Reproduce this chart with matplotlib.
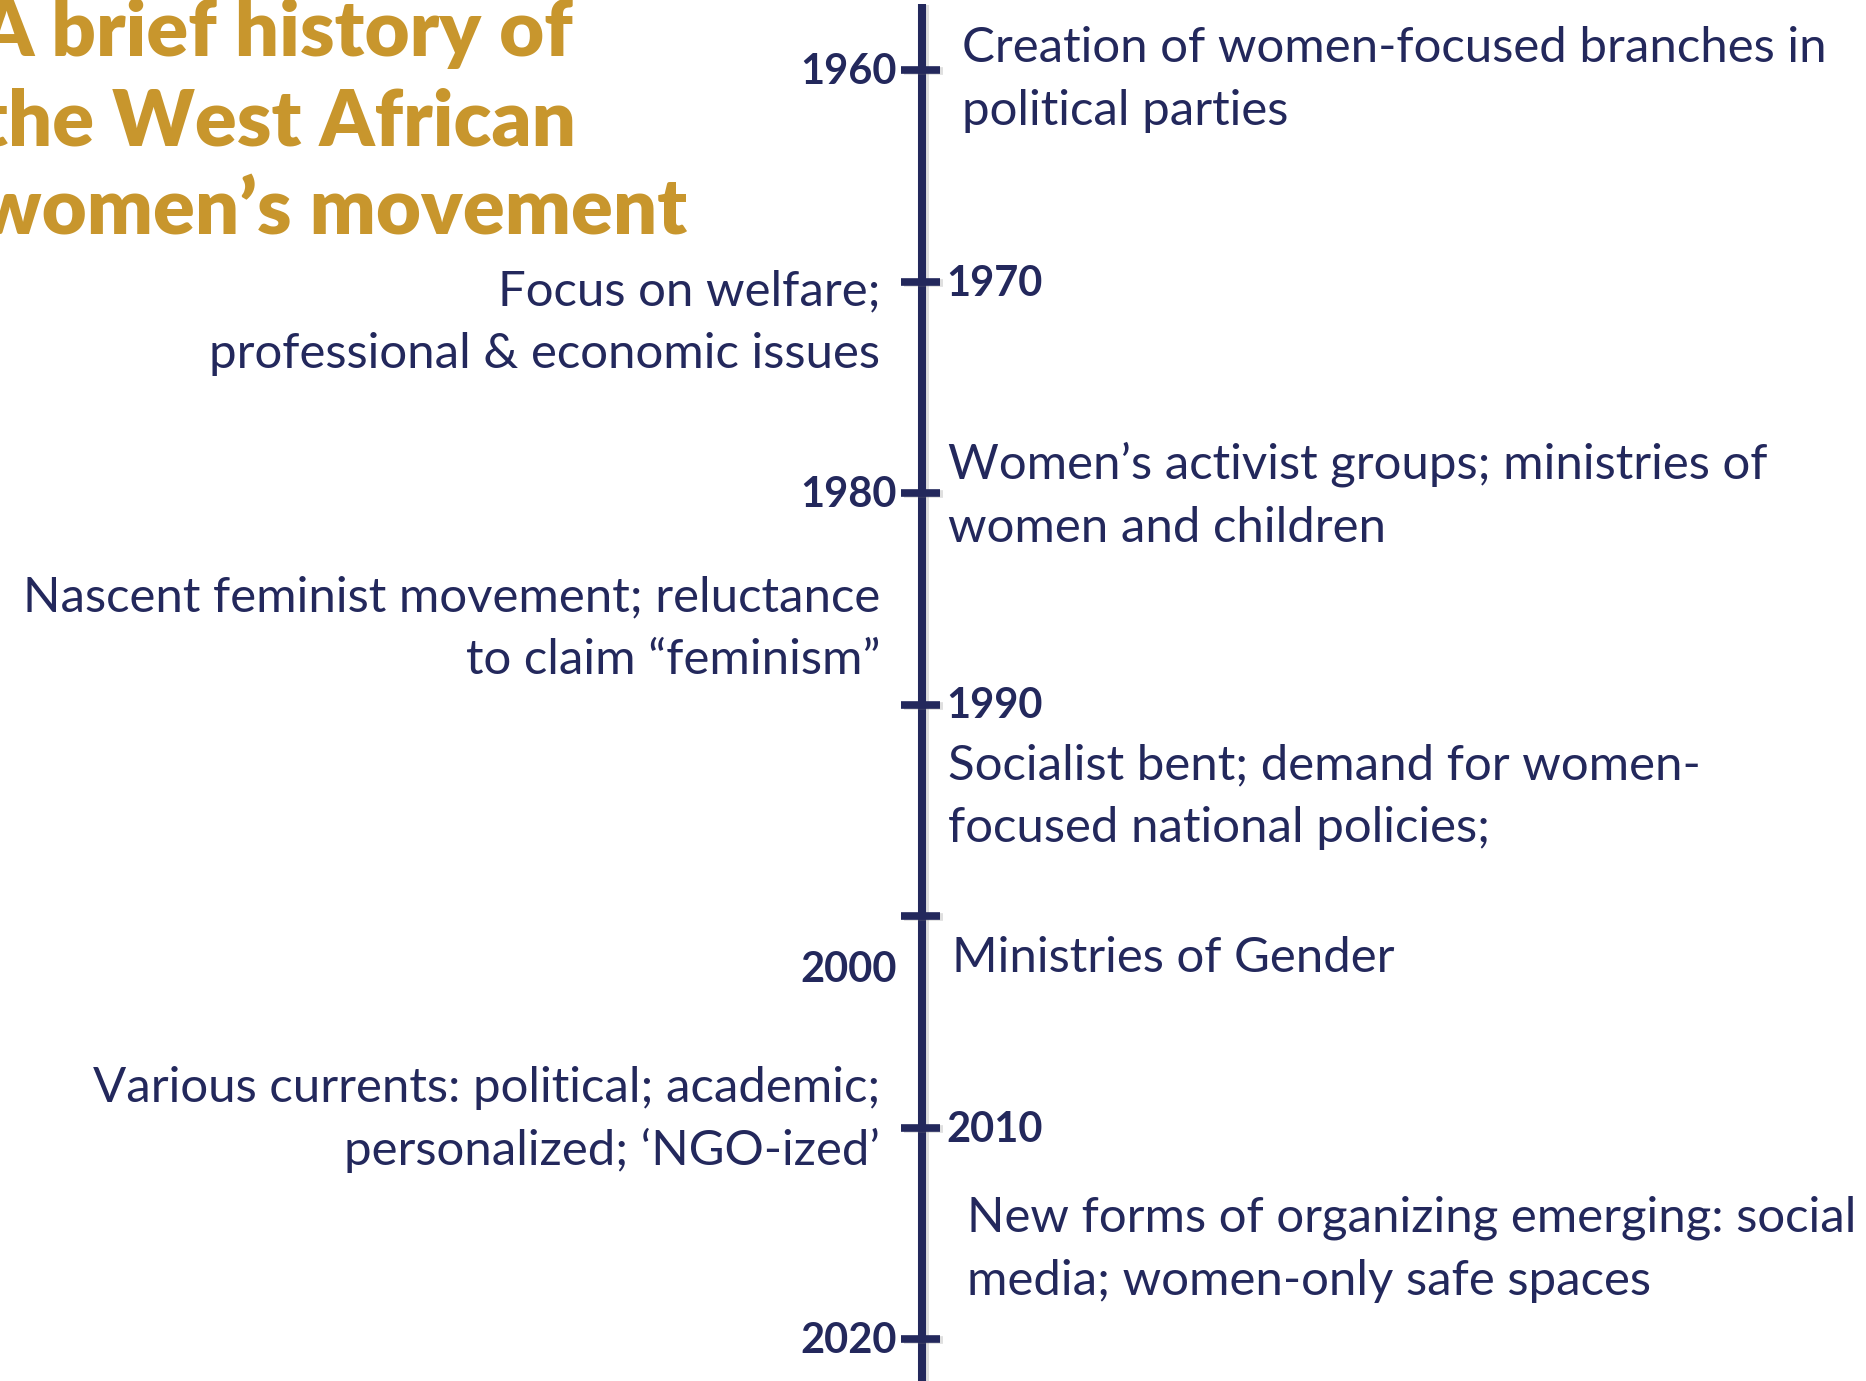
import matplotlib.pyplot as plt
import matplotlib.patheffects as pe

# timeline data
years = [1960, 1970, 1980, 1990, 2000, 2010, 2020]
label_side = ["left", "right", "left", "right", "left", "right", "left"]

events_right = [
    ["Creation of women-focused branches in", "political parties"],
    ["Women\u2019s activist groups; ministries of", "women and children"],
    ["Socialist bent; demand for women-", "focused national policies;"],
    ["Ministries of Gender"],
    ["New forms of organizing emerging: social", "media; women-only safe spaces"],
]
events_left = [
    ["Focus on welfare;", "professional & economic issues"],
    ["Nascent feminist movement; reluctance", "to claim \u201cfeminism\u201d"],
    ["Various currents: political; academic;", "personalized; \u2018NGO-ized\u2019"],
]
title_lines = ["A brief history of", "the West African", "women\u2019s movement"]

NAVY = "#23285c"
GOLD = "#c8962d"
W, H = 1866, 1381

# layout: pixel rows of the first tick / last tick
top_px, bot_px = 70, 1339
px_per_year = (bot_px - top_px) / (years[-1] - years[0])


def px2yr(p):
    return years[0] + (p - top_px) / px_per_year


fig = plt.figure(figsize=(W / 100, H / 100), dpi=100)
ax = fig.add_axes([0, 0, 1, 1])
ax.set_xlim(0, W)
ax.set_ylim(px2yr(H), px2yr(0))
ax.axis("off")

axis_x = 922
shadow = [pe.SimpleLineShadow(offset=(2.5, -1), alpha=0.25, shadow_color="gray"), pe.Normal()]
ax.plot([axis_x, axis_x], [px2yr(4), px2yr(H + 10)], color=NAVY, lw=5.8,
        solid_capstyle="butt", path_effects=shadow)
for yr in years:
    ax.plot([axis_x - 21, axis_x + 18], [yr, yr], color=NAVY, lw=5.5,
            solid_capstyle="butt", path_effects=shadow)

# year labels (2000 sits below its tick on the slide)
for yr, side in zip(years, label_side):
    off = 66 if yr == 2000 else 14
    ypos = yr + off / px_per_year
    if side == "left":
        ax.text(897, ypos, str(yr), ha="right", va="baseline", fontsize=30,
                fontweight="bold", color=NAVY, family="Lato")
    else:
        ax.text(946, ypos, str(yr), ha="left", va="baseline", fontsize=30,
                fontweight="bold", color=NAVY, family="Lato")

# descriptions
right_pos = [(962, 62), (948, 479), (948, 779), (952, 972), (967, 1232)]
left_pos = [(880, 305), (880, 611), (880, 1102)]
step = 63
for lines, (x0, b0) in zip(events_right, right_pos):
    for i, ln in enumerate(lines):
        ax.text(x0, px2yr(b0 + i * step), ln, ha="left", va="baseline",
                fontsize=35.4, color=NAVY, family="Lato")
for lines, (x0, b0) in zip(events_left, left_pos):
    for i, ln in enumerate(lines):
        ax.text(x0, px2yr(b0 + i * step), ln, ha="right", va="baseline",
                fontsize=35.4, color=NAVY, family="Lato")

# title (clipped at the left edge like the slide)
for i, ln in enumerate(title_lines):
    ax.text(-22, px2yr(56 + i * 89), ln, ha="left", va="baseline",
            fontsize=56, fontweight="heavy", color=GOLD, family="Lato",
            clip_on=False)

fig.savefig("out.png", dpi=100)
